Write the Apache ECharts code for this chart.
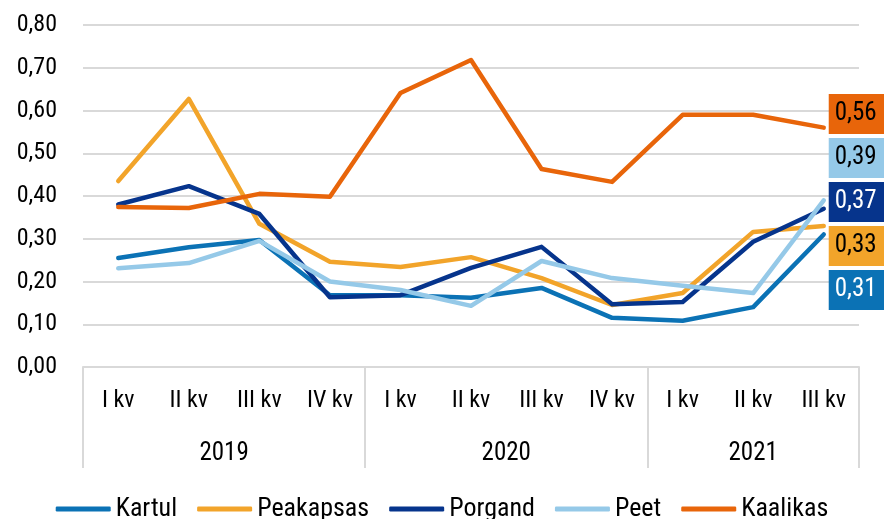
<!DOCTYPE html>
<html>
<head>
<meta charset="utf-8">
<script src="https://cdn.jsdelivr.net/npm/echarts@6/dist/echarts.min.js"></script>
<style>
  html, body { margin: 0; padding: 0; background: #fff; }
  #chart { width: 884px; height: 519px; }
</style>
</head>
<body>
<div id="chart"></div>
<script>
/* data */
var quarters = ['I kv', 'II kv', 'III kv', 'IV kv', 'I kv', 'II kv', 'III kv', 'IV kv', 'I kv', 'II kv', 'III kv'];
var years = ['2019', '2020', '2021'];
var yearLengths = [4, 4, 3];
var yTicks = [0, 0.1, 0.2, 0.3, 0.4, 0.5, 0.6, 0.7, 0.8];

var kartul    = [0.255, 0.280, 0.297, 0.168, 0.168, 0.162, 0.185, 0.115, 0.108, 0.140, 0.31];
var peakapsas = [0.435, 0.627, 0.335, 0.246, 0.234, 0.257, 0.208, 0.145, 0.173, 0.316, 0.33];
var porgand   = [0.380, 0.423, 0.358, 0.163, 0.168, 0.232, 0.281, 0.147, 0.152, 0.293, 0.37];
var peet      = [0.231, 0.243, 0.295, 0.200, 0.180, 0.143, 0.248, 0.208, 0.190, 0.173, 0.39];
var kaalikas  = [0.374, 0.372, 0.405, 0.398, 0.641, 0.718, 0.463, 0.433, 0.590, 0.590, 0.56];

var seriesNames = ['Kartul', 'Peakapsas', 'Porgand', 'Peet', 'Kaalikas'];
var seriesData = [kartul, peakapsas, porgand, peet, kaalikas];
var colors = ['#0B72B5', '#F2A42A', '#06348C', '#95C9E8', '#E8650A'];
var labelText = ['#fff', '#000', '#fff', '#000', '#000'];

var FONT = "'Roboto Condensed', 'Liberation Sans Narrow', 'DejaVu Sans Condensed', Roboto, sans-serif";
var GRID_COLOR = '#d9d9d9';

function fmt(v) { return v.toFixed(2).replace('.', ','); }

/* year boundaries and centres on a -0.5..n-0.5 value scale */
var bounds = [-0.5];
var centres = [];
var acc = 0;
yearLengths.forEach(function (n) {
    centres.push(acc - 0.5 + n / 2);
    acc += n;
    bounds.push(acc - 0.5);
});

var chart = echarts.init(document.getElementById('chart'));

var series = seriesNames.map(function (name, i) {
    return {
        name: name,
        type: 'line',
        data: seriesData[i],
        showSymbol: false,
        symbol: 'none',
        lineStyle: { width: 4.5, color: colors[i], cap: 'round', join: 'round' },
        itemStyle: { color: colors[i] },
        z: 2 + i,
        endLabel: {
            show: true,
            distance: 5,
            formatter: function (p) { return fmt(p.value); },
            backgroundColor: colors[i],
            color: labelText[i],
            fontFamily: FONT,
            fontSize: 25,
            lineHeight: 28,
            padding: [6, 8, 6, 6],
            offset: [0, 0]
        }
    };
});

var option = {
    animation: false,
    textStyle: { fontFamily: FONT },
    grid: { left: 83, right: 25, top: 25, bottom: 152, containLabel: false },
    legend: {
        data: seriesNames,
        top: 491,
        left: 'center',
        icon: 'roundRect',
        itemWidth: 55,
        itemHeight: 5,
        itemGap: 20,
        textStyle: { fontFamily: FONT, fontSize: 26, color: '#000' }
    },
    xAxis: [
        {
            type: 'category',
            data: quarters,
            boundaryGap: true,
            position: 'bottom',
            axisLine: { show: true, lineStyle: { color: GRID_COLOR, width: 2 } },
            axisTick: { show: false },
            axisLabel: { margin: 22, fontSize: 24, color: '#000', fontFamily: FONT, interval: 0 },
            splitLine: { show: false }
        },
        {
            type: 'value',
            min: -0.5,
            max: quarters.length - 0.5,
            position: 'bottom',
            axisLine: { show: false },
            axisTick: {
                show: true,
                customValues: bounds,
                length: 101,
                lineStyle: { color: GRID_COLOR, width: 2 }
            },
            axisLabel: {
                show: true,
                customValues: centres,
                margin: 74,
                fontSize: 25,
                color: '#000',
                fontFamily: FONT,
                formatter: function (v) {
                    var k = centres.indexOf(v);
                    return k >= 0 ? years[k] : '';
                }
            },
            splitLine: { show: false }
        }
    ],
    yAxis: {
        type: 'value',
        min: yTicks[0],
        max: yTicks[yTicks.length - 1],
        interval: 0.1,
        axisLine: { show: false },
        axisTick: { show: false },
        axisLabel: { formatter: fmt, fontSize: 24, color: '#000', fontFamily: FONT, margin: 26, padding: [4, 0, 0, 0] },
        splitLine: { lineStyle: { color: GRID_COLOR, width: 2 } }
    },
    series: series
};

chart.setOption(option);

/* stack the end labels in a column on the right, ordered by last value */
var order = seriesData.map(function (d, i) { return i; }).sort(function (a, b) {
    return seriesData[b][seriesData[b].length - 1] - seriesData[a][seriesData[a].length - 1];
});
var slotTop = 114, slotStep = 44;
var updates = seriesData.map(function (d, i) {
    var last = d.length - 1;
    var px = chart.convertToPixel({ seriesIndex: i }, [last, d[last]]);
    var rank = order.indexOf(i);
    return { endLabel: { offset: [0, slotTop + rank * slotStep - px[1]] } };
});
chart.setOption({ series: updates });
</script>
</body>
</html>
